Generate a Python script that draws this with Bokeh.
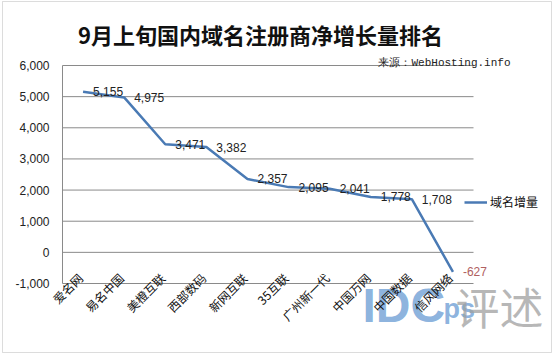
import math
from bokeh.plotting import figure
from bokeh.models import ColumnDataSource, Label, Legend, LegendItem, BoxAnnotation, Range1d
from bokeh.embed import file_html
from bokeh.resources import INLINE
from bokeh.core.properties import value

# ---------------- data ----------------
categories = ["爱名网", "易名中国", "美橙互联", "西部数码", "新网互联",
              "35互联", "广州新一代", "中国万网", "中国数据", "信风网络"]
values = [5155, 4975, 3471, 3382, 2357, 2095, 2041, 1778, 1708, -627]
y_ticks = [-1000, 0, 1000, 2000, 3000, 4000, 5000, 6000]
series_name = "域名增量"
chart_title = "9月上旬国内域名注册商净增长量排名"
source_note = "来源：WebHosting.info"

# ---------------- layout (pixels) ----------------
W, H = 554, 354
FL, FR, FT, FB = 62, 473, 65, 283   # plot-area edges in canvas px
N = len(categories)
px_cat = (FR - FL) / N
ymin, ymax = y_ticks[0], y_ticks[-1]
px_val = (FB - FT) / (ymax - ymin)

x_range = Range1d(-FL / px_cat, N + (W - FR) / px_cat)
y_range = Range1d(ymin - (H - FB) / px_val, ymax + FT / px_val)

p = figure(width=W, height=H, x_range=x_range, y_range=y_range,
           x_axis_location=None, y_axis_location=None,
           output_backend="svg", toolbar_location=None,
           min_border=0, min_border_left=0, min_border_right=0,
           min_border_top=0, min_border_bottom=0)
p.outline_line_color = None
p.grid.visible = False
p.background_fill_color = "white"
p.border_fill_color = "white"

xs = [i + 0.5 for i in range(N)]

# horizontal grid lines and value-axis line
p.segment(x0=[0] * len(y_ticks), x1=[N] * len(y_ticks), y0=y_ticks, y1=y_ticks,
          line_color="#8a8a8a", line_width=1)
p.segment(x0=[0], x1=[0], y0=[ymin], y1=[ymax], line_color="#8a8a8a", line_width=1)

# value-axis tick labels
p.text(x=[0] * len(y_ticks), y=y_ticks, text=[f"{t:,}" for t in y_ticks],
       x_offset=-13, text_align="right", text_baseline="middle",
       text_font=value("Liberation Sans"), text_font_size="12px",
       text_color="#222222")

# watermark (behind the marks)
p.add_layout(Label(x=362, y=H - 305, x_units="screen", y_units="screen",
                   text="IDC", text_align="left", text_baseline="middle",
                   text_font="Liberation Sans", text_font_style="bold",
                   text_font_size="48px", text_color="#6f9fd6", text_alpha=0.8,
                   level="underlay"))
p.add_layout(Label(x=443, y=H - 308, x_units="screen", y_units="screen",
                   text="ps", text_align="left", text_baseline="middle",
                   text_font="Liberation Sans", text_font_style="bold",
                   text_font_size="27px", text_color="#6f9fd6", text_alpha=0.8,
                   level="underlay"))
p.add_layout(Label(x=455, y=H - 305, x_units="screen", y_units="screen",
                   text="评述", text_align="left", text_baseline="middle",
                   text_font="Noto Sans CJK SC", text_font_size="44px",
                   text_color="#a0a0a0", text_alpha=0.75, level="underlay"))

# category labels (rotated 45°)
p.text(x=xs, y=[ymin] * N, text=categories, angle=math.pi / 4,
       x_offset=-3, y_offset=-8, text_align="right", text_baseline="middle",
       text_font=value("Noto Sans CJK SC"), text_font_size="12px",
       text_color="#111111")

# line + data labels
src = ColumnDataSource(dict(
    x=xs, y=values,
    lbl=[f"{v:,}" for v in values],
    col=["#222222" if v >= 0 else "#b06060" for v in values],
))
line_r = p.line("x", "y", source=src, line_color="#4a7ab4", line_width=2.5)
p.text("x", "y", text="lbl", source=src, x_offset=10, text_baseline="middle",
       text_align="left", text_font=value("Liberation Sans"),
       text_font_size="12px", text_color="col")

# legend
leg = Legend(items=[LegendItem(label=series_name, renderers=[line_r])],
             location=(464, H - 202 - 8),
             glyph_width=23, glyph_height=16, label_standoff=3,
             padding=0, margin=0, border_line_color=None,
             background_fill_alpha=0,
             label_text_font="Noto Sans CJK SC", label_text_font_size="12px",
             label_text_color="#111111")
p.add_layout(leg, "center")

# title and source note (screen units, from bottom-left)
p.add_layout(Label(x=260, y=H - 33, x_units="screen", y_units="screen",
                   text=chart_title, text_align="center", text_baseline="middle",
                   text_font="Noto Sans CJK SC", text_font_style="bold",
                   text_font_size="22px", text_color="#111111"))
p.add_layout(Label(x=510, y=H - 62, x_units="screen", y_units="screen",
                   text=source_note, text_align="right", text_baseline="middle",
                   text_font="Liberation Mono", text_font_size="11px",
                   text_color="#222222"))

# outer border
p.add_layout(BoxAnnotation(left=2, right=551, top=H - 1, bottom=H - 352,
                           left_units="screen", right_units="screen",
                           top_units="screen", bottom_units="screen",
                           fill_alpha=0, line_color="#8a8a8a", line_width=1))

open("out.html", "w").write(file_html(p, INLINE))
